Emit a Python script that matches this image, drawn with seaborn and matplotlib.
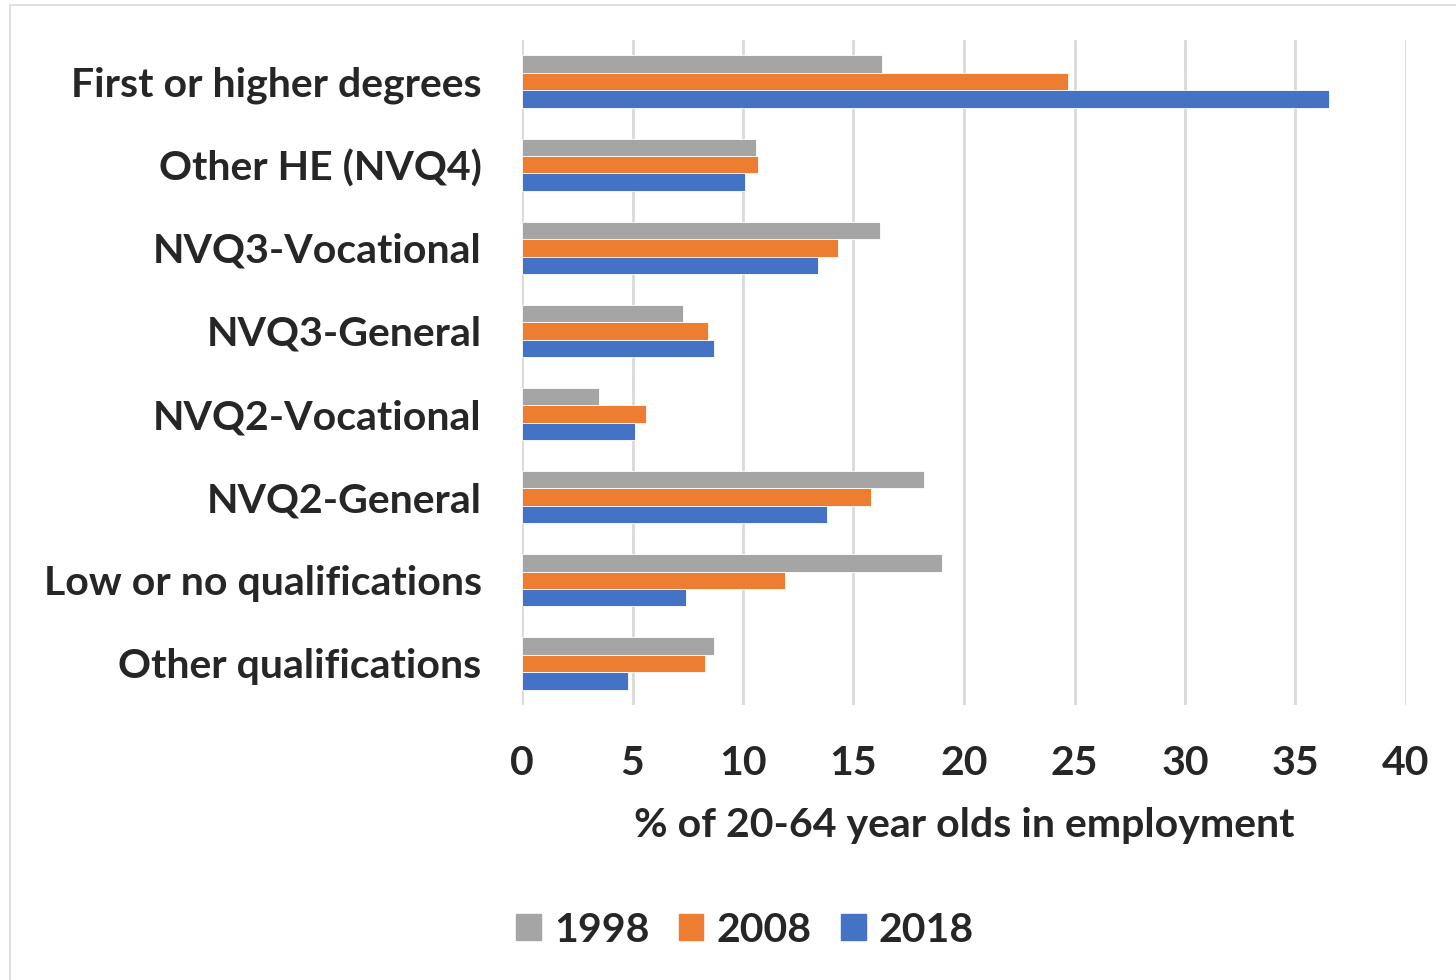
import pandas as pd
import numpy as np
import matplotlib
matplotlib.use("Agg")
import matplotlib.pyplot as plt
from matplotlib.patches import Rectangle
import seaborn as sns

categories = ["First or higher degrees", "Other HE (NVQ4)", "NVQ3-Vocational",
              "NVQ3-General", "NVQ2-Vocational", "NVQ2-General",
              "Low or no qualifications", "Other qualifications"]
years = ["1998", "2008", "2018"]
vals_1998 = [16.3, 10.6, 16.2, 7.3, 3.5, 18.2, 19.0, 8.7]
vals_2008 = [24.7, 10.7, 14.3, 8.4, 5.6, 15.8, 11.9, 8.3]
vals_2018 = [36.5, 10.1, 13.4, 8.7, 5.1, 13.8, 7.4, 4.8]
colors = ["#A5A5A5", "#ED7D31", "#4472C4"]

# long table for seaborn
df = pd.DataFrame({
    "cat": categories * 3,
    "year": [y for y in years for _ in categories],
    "val": vals_1998 + vals_2008 + vals_2018,
})

sns.set_theme(style="white")
plt.rcParams['font.family'] = ['Lato', 'DejaVu Sans']
plt.rcParams['font.weight'] = 'bold'
fs = 29.5

fig = plt.figure(figsize=(14.56, 9.8), dpi=100)
ax = fig.add_axes([522/1456, 1 - 705/980, (1406 - 522)/1456, (705 - 40)/980])

sns.barplot(data=df, x="val", y="cat", hue="year", order=categories,
            hue_order=years, palette=colors, width=0.63, ax=ax,
            edgecolor="white", linewidth=0.6, saturation=1, legend=True)

ax.set_xlim(0, 40)
ax.set_ylim(7.5, -0.5)
ax.set_xticks(range(0, 41, 5))
ax.xaxis.grid(True, color="#D9D9D9", linewidth=2)
ax.set_axisbelow(True)
for s in ax.spines.values():
    s.set_visible(False)
ax.tick_params(axis="both", length=0, labelsize=fs)
ax.tick_params(axis="x", pad=29)
ax.tick_params(axis="y", pad=29)
for lab in ax.get_xticklabels() + ax.get_yticklabels():
    lab.set_fontweight("bold")
ax.set_ylabel("")
ax.set_xlabel("% of 20-64 year olds in employment", fontsize=fs,
              fontweight="bold", labelpad=18)

ax.get_legend().remove()
handles = [Rectangle((0, 0), 1, 1, color=c) for c in colors]
fig.legend(handles, years, loc="center", bbox_to_anchor=(745/1456, 1 - 930/980),
           ncol=3, frameon=False, handlelength=0.6, handleheight=0.6,
           columnspacing=0.72, handletextpad=0.32, prop={"weight": "bold", "size": fs})

# faint chart-area border
fig.patches.append(Rectangle((10/1456, -0.01), 1.0, 1 - 5/980 + 0.01,
                             transform=fig.transFigure, fill=False,
                             edgecolor="#D9D9D9", linewidth=1.2))

fig.savefig("out.png", dpi=100)
